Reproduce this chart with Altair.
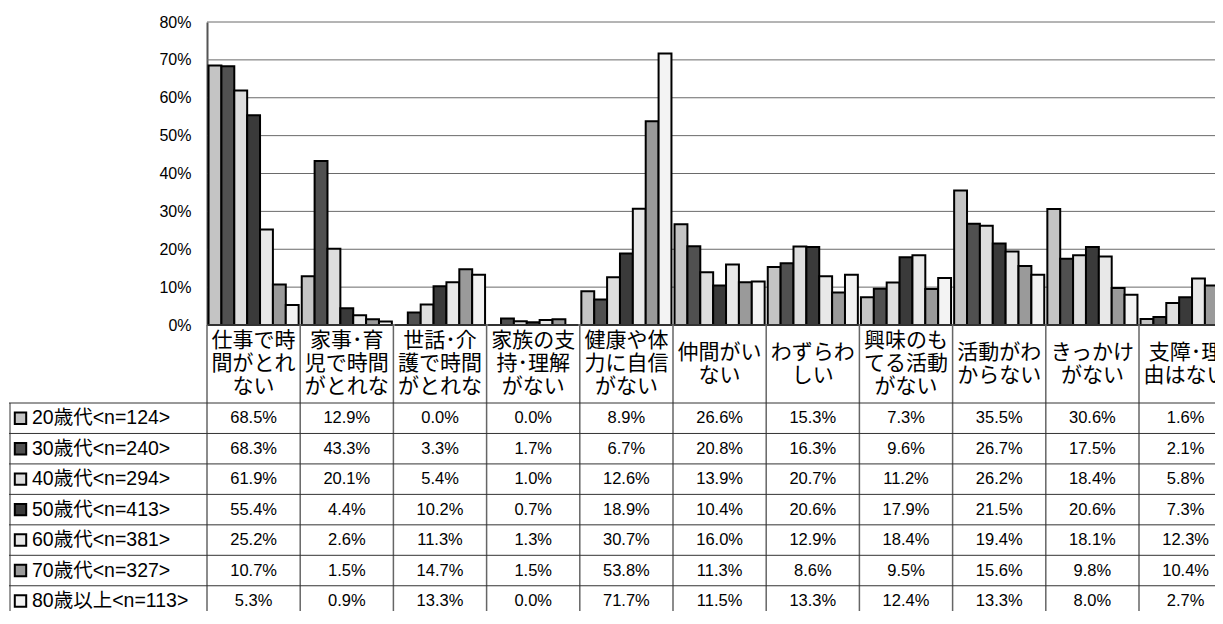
import altair as alt
import pandas as pd

# ---------------- data ----------------
categories = [
    "仕事で時\n間がとれ\nない",
    "家事･育\n児で時間\nがとれな",
    "世話･介\n護で時間\nがとれな",
    "家族の支\n持･理解\nがない",
    "健康や体\n力に自信\nがない",
    "仲間がい\nない",
    "わずらわ\nしい",
    "興味のも\nてる活動\nがない",
    "活動がわ\nからない",
    "きっかけ\nがない",
    "支障･理\n由はない",
]
series = [
    "20歳代<n=124>",
    "30歳代<n=240>",
    "40歳代<n=294>",
    "50歳代<n=413>",
    "60歳代<n=381>",
    "70歳代<n=327>",
    "80歳以上<n=113>",
]
v20 = [68.5, 12.9, 0.0, 0.0, 8.9, 26.6, 15.3, 7.3, 35.5, 30.6, 1.6]
v30 = [68.3, 43.3, 3.3, 1.7, 6.7, 20.8, 16.3, 9.6, 26.7, 17.5, 2.1]
v40 = [61.9, 20.1, 5.4, 1.0, 12.6, 13.9, 20.7, 11.2, 26.2, 18.4, 5.8]
v50 = [55.4, 4.4, 10.2, 0.7, 18.9, 10.4, 20.6, 17.9, 21.5, 20.6, 7.3]
v60 = [25.2, 2.6, 11.3, 1.3, 30.7, 16.0, 12.9, 18.4, 19.4, 18.1, 12.3]
v70 = [10.7, 1.5, 14.7, 1.5, 53.8, 11.3, 8.6, 9.5, 15.6, 9.8, 10.4]
v80 = [5.3, 0.9, 13.3, 0.0, 71.7, 11.5, 13.3, 12.4, 13.3, 8.0, 2.7]
yticks = [0, 10, 20, 30, 40, 50, 60, 70, 80]

values = [v20, v30, v40, v50, v60, v70, v80]
colors = ["#c4c4c4", "#505050", "#dedede", "#3a3a3a", "#e8e8e8", "#9a9a9a", "#f3f3f3"]

df = pd.DataFrame(
    [{"cat": c, "series": s, "value": v}
     for s, vals in zip(series, values) for c, v in zip(categories, vals)]
)
cat_df = pd.DataFrame({"cat": categories,
                       "nlines": [c.count("\n") + 1 for c in categories]})
ser_df = pd.DataFrame({"series": series})
tick_df = pd.DataFrame({"t": yticks})

# ---------------- layout (plot coords) ----------------
W = 1206          # plot width (visible part)
H = 589           # plot height (visible part)
AX = 198          # x of the value axis / first column
COL = 93.2        # column width
Y0 = 303          # y of the 0% baseline
ROW_TOP = 381     # top of first data row
ROW_H = 30.46
HEADER_MID = 342
LH = 23

LATIN = "Liberation Sans, Noto Sans CJK JP"
CJK = "Noto Sans CJK JP"

XR = AX + COL * len(categories)
YB = ROW_TOP + ROW_H * len(series)
xscale = alt.Scale(domain=categories, range=[AX, XR], paddingInner=0, paddingOuter=0)
yscale = alt.Scale(domain=[0, 80], range=[Y0, 0])
rowscale = alt.Scale(domain=series, range=[ROW_TOP, YB], paddingInner=0, paddingOuter=0)
colorscale = alt.Scale(domain=series, range=colors)

grid = alt.Chart(tick_df).transform_filter("datum.t > 0").mark_rule(
    color="#6a6a6a", strokeWidth=1
).encode(
    y=alt.Y("t:Q", scale=yscale, axis=None),
    x=alt.value(AX), x2=alt.value(XR),
)

bars = alt.Chart(df).mark_bar(stroke="black", strokeWidth=2).encode(
    x=alt.X("cat:N", scale=xscale, axis=None),
    xOffset=alt.XOffset("series:N", scale=alt.Scale(domain=series, paddingOuter=0.12, paddingInner=0)),
    y=alt.Y(
        "value:Q", scale=yscale, title=None,
        axis=alt.Axis(
            values=yticks, labelExpr="datum.value + '%'", offset=-AX,
            grid=False, ticks=False, domainColor="#555", domainWidth=2,
            labelFont=LATIN, labelFontSize=16, labelColor="black",
            labelPadding=16,
        ),
    ),
    fill=alt.Fill("series:N", scale=colorscale, legend=None),
)

baseline = alt.Chart(tick_df).transform_filter("datum.t == 0").mark_rule(
    color="#444", strokeWidth=1.5
).encode(
    y=alt.Y("t:Q", scale=yscale, axis=None),
    x=alt.value(AX), x2=alt.value(XR),
)

vlines = alt.Chart(cat_df).mark_rule(color="#666", strokeWidth=1.5).encode(
    x=alt.X("cat:N", scale=xscale, bandPosition=0, axis=None),
    y=alt.value(Y0), y2=alt.value(YB),
)

left_border = alt.Chart(ser_df).transform_filter(
    alt.datum.series == series[0]
).mark_rule(color="#333", strokeWidth=1).encode(
    x=alt.value(1), y=alt.value(ROW_TOP), y2=alt.value(YB),
)

hlines = alt.Chart(ser_df).mark_rule(color="#333", strokeWidth=1).encode(
    y=alt.Y("series:N", scale=rowscale, bandPosition=0, axis=None),
    x=alt.value(0), x2=alt.value(XR),
)

squares = alt.Chart(ser_df).mark_square(
    size=130, stroke="black", strokeWidth=2, opacity=1
).encode(
    x=alt.value(11.5),
    y=alt.Y("series:N", scale=rowscale, axis=None),
    fill=alt.Fill("series:N", scale=colorscale, legend=None),
)

legend_text = alt.Chart(ser_df).mark_text(
    align="left", baseline="middle", fontSize=19.5, font=LATIN, color="black"
).encode(
    x=alt.value(23),
    y=alt.Y("series:N", scale=rowscale, axis=None),
    text="series:N",
)

cell_text = alt.Chart(df).transform_calculate(
    label="format(datum.value, '.1f') + '%'"
).mark_text(
    align="center", baseline="middle", fontSize=16.5, font=LATIN, color="black"
).encode(
    x=alt.X("cat:N", scale=xscale, axis=None),
    y=alt.Y("series:N", scale=rowscale, axis=None),
    text="label:N",
)


def header(n):
    return alt.Chart(cat_df).transform_filter(
        alt.datum.nlines == n
    ).mark_text(
        align="center", baseline="middle", fontSize=21, font=CJK,
        lineBreak="\n", lineHeight=LH, color="black"
    ).encode(
        x=alt.X("cat:N", scale=xscale, axis=None),
        y=alt.value(HEADER_MID - LH * (n - 1) / 2),
        text="cat:N",
    )


chart = alt.layer(
    grid, bars, baseline, vlines, left_border, hlines,
    squares, legend_text, cell_text, header(3), header(2),
).resolve_scale(
    y="independent"
).properties(
    width=W, height=H,
    autosize=alt.AutoSizeParams(type="none"),
    padding={"left": 1, "top": 14, "right": 0, "bottom": 0},
    background="white",
).configure_view(stroke=None)

chart.save("out.html", embed_options={"renderer": "svg", "actions": False})
